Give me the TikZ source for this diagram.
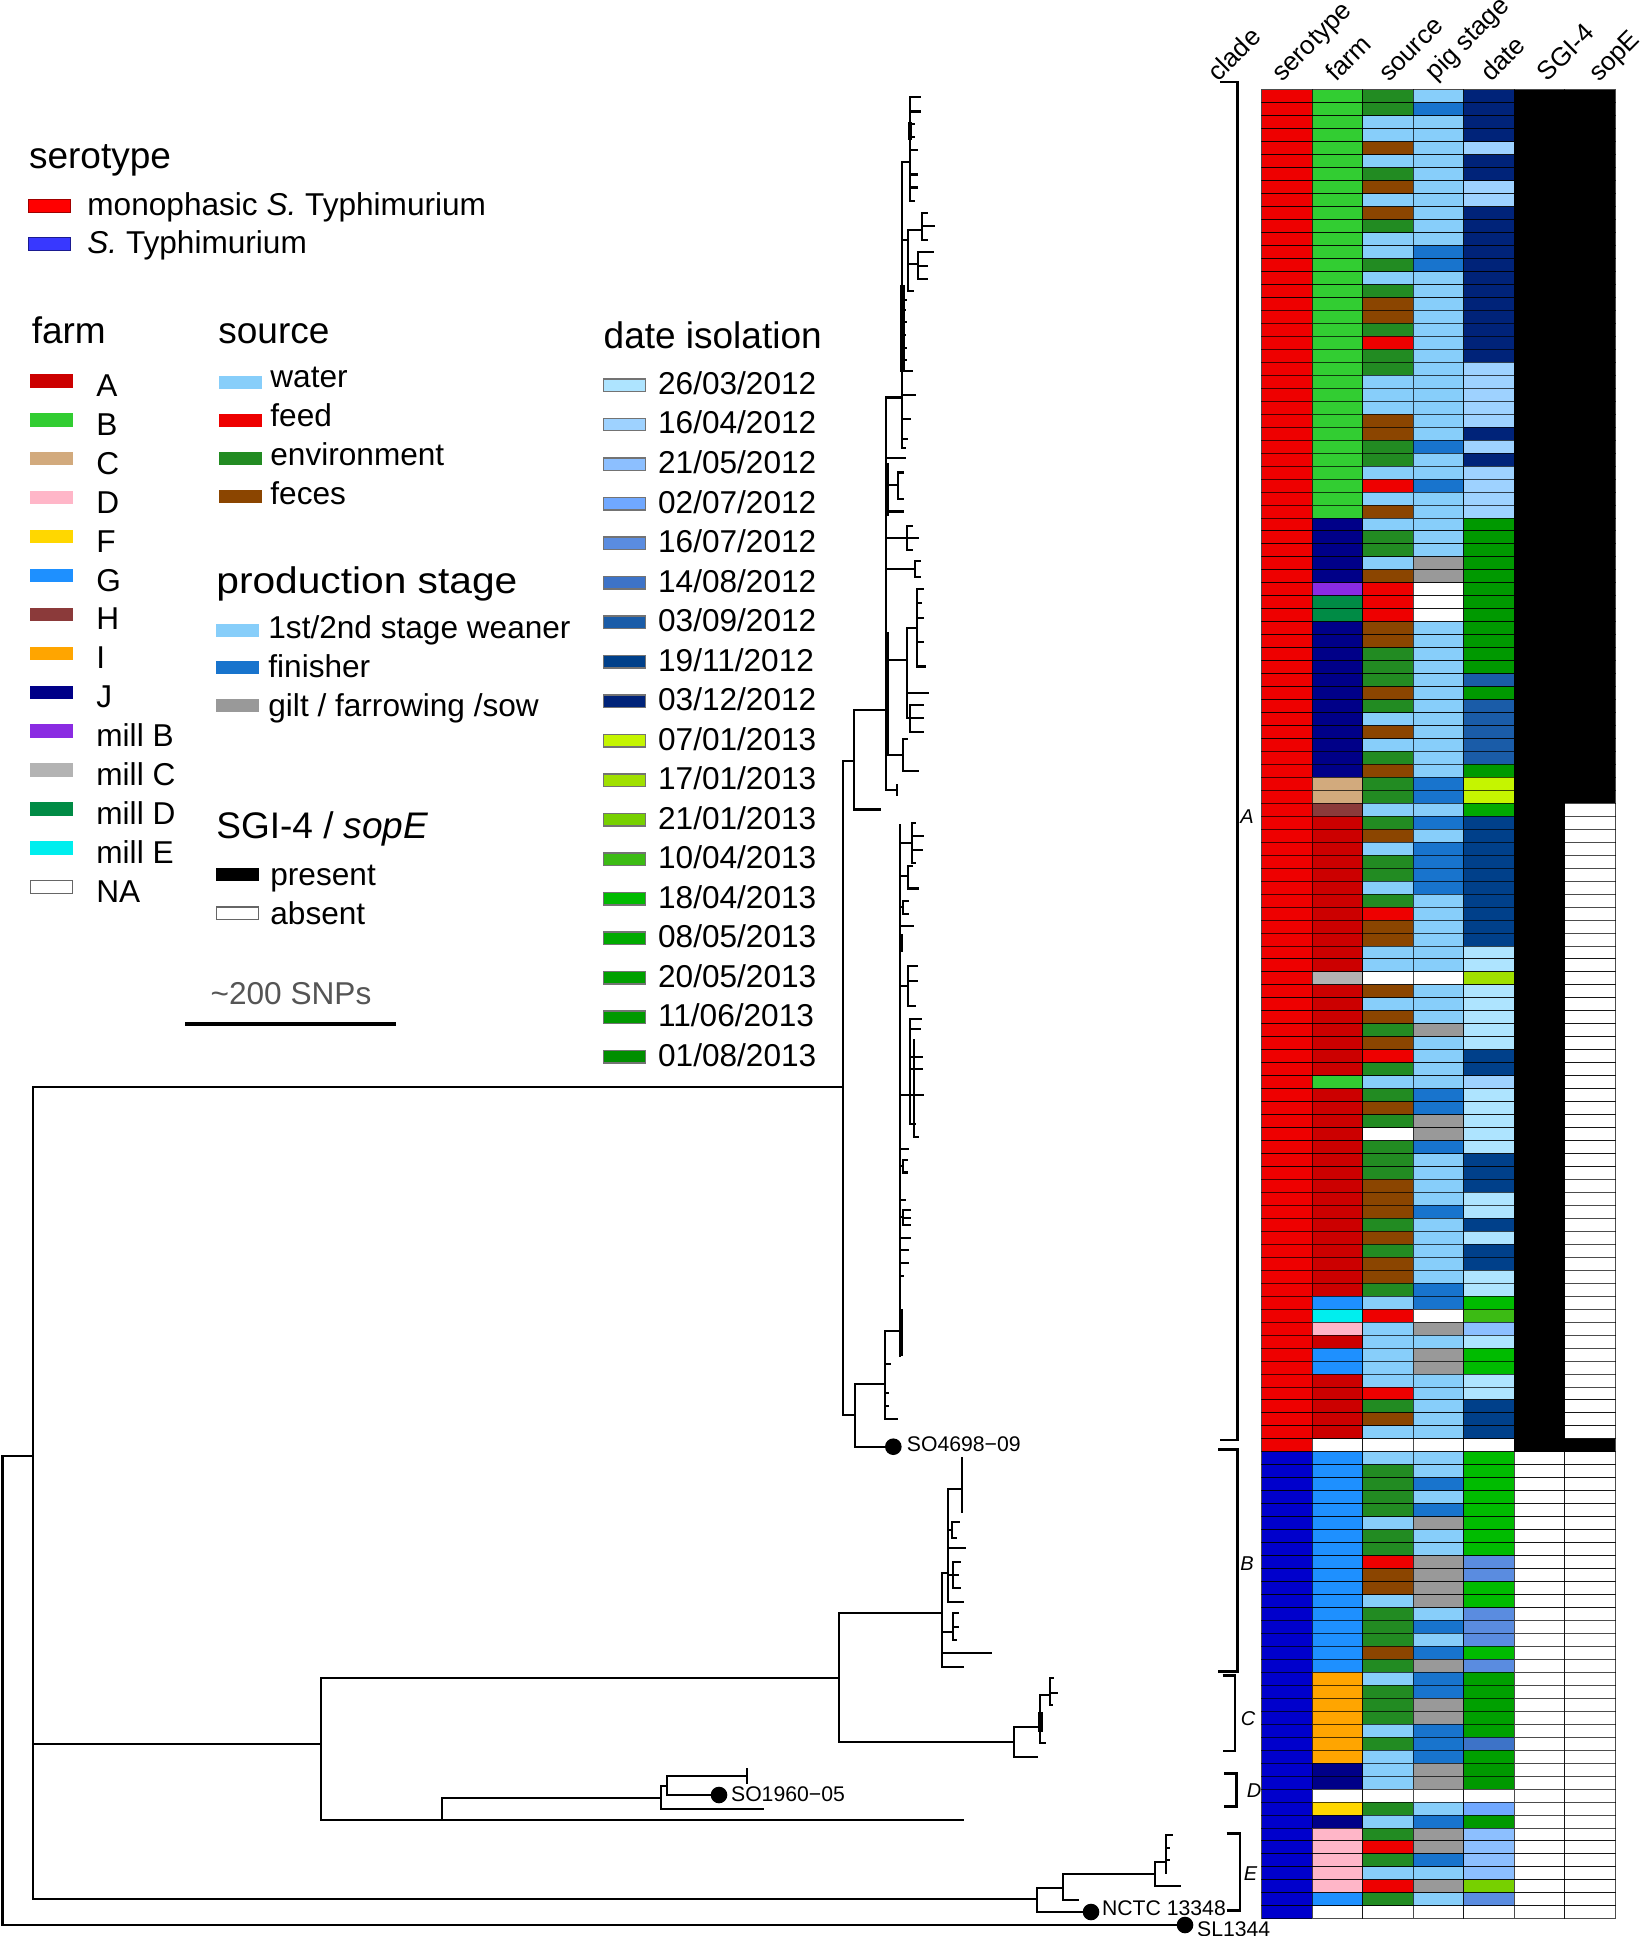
\documentclass[tikz,border=0pt]{standalone}
\usepackage{fontspec}
\setmainfont{Liberation Sans}
% serotype
\definecolor{serM}{HTML}{EE0000}
\definecolor{serT}{HTML}{0000CC}
\definecolor{legR}{HTML}{FF0000}
\definecolor{legRb}{HTML}{A00000}
\definecolor{legB}{HTML}{3838FF}
\definecolor{legBb}{HTML}{1A1A90}
% farm
\definecolor{farmA}{HTML}{CC0000}
\definecolor{farmB}{HTML}{32CD32}
\definecolor{farmC}{HTML}{D2AA7D}
\definecolor{farmD}{HTML}{FFB6C8}
\definecolor{farmF}{HTML}{FFD700}
\definecolor{farmG}{HTML}{1E90FF}
\definecolor{farmH}{HTML}{8B3A3A}
\definecolor{farmI}{HTML}{FFA500}
\definecolor{farmJ}{HTML}{000088}
\definecolor{farmmB}{HTML}{8A2BE2}
\definecolor{farmmC}{HTML}{B3B3B3}
\definecolor{farmmD}{HTML}{008B45}
\definecolor{farmmE}{HTML}{00EEEE}
\definecolor{farmN}{HTML}{FFFFFF}
% source
\definecolor{srcW}{HTML}{87CEFA}
\definecolor{srcF}{HTML}{EE0000}
\definecolor{srcE}{HTML}{228B22}
\definecolor{srcX}{HTML}{8B4500}
\definecolor{srcN}{HTML}{FFFFFF}
% stage
\definecolor{stgW}{HTML}{87CEFA}
\definecolor{stgF}{HTML}{1874CD}
\definecolor{stgG}{HTML}{999999}
\definecolor{stgN}{HTML}{FFFFFF}
% dates
\definecolor{dt1}{HTML}{AEE4FF}
\definecolor{dt2}{HTML}{9ED2FF}
\definecolor{dt3}{HTML}{8CBFFF}
\definecolor{dt4}{HTML}{70A8FF}
\definecolor{dt5}{HTML}{5A8CE0}
\definecolor{dt6}{HTML}{3D73C8}
\definecolor{dt7}{HTML}{1A5CA8}
\definecolor{dt8}{HTML}{00408A}
\definecolor{dt9}{HTML}{002379}
\definecolor{dt10}{HTML}{C5F500}
\definecolor{dt11}{HTML}{A0E000}
\definecolor{dt12}{HTML}{77D000}
\definecolor{dt13}{HTML}{3CBB14}
\definecolor{dt14}{HTML}{00BB00}
\definecolor{dt15}{HTML}{00AA00}
\definecolor{dt16}{HTML}{00A000}
\definecolor{dt17}{HTML}{009900}
\definecolor{dt18}{HTML}{008F00}
\definecolor{dtN}{HTML}{FFFFFF}
\definecolor{snpgray}{HTML}{555555}
\tikzset{
 br/.style={line width=1.1pt, line cap=rect},
 bthick/.style={line width=2.2pt},
 brk/.style={line width=1.4pt},
 cell/.style={draw=black, draw opacity=0.7, line width=0.5pt},
 ttl/.style={font=\fontsize{18.5}{22}\selectfont, inner sep=0pt, anchor=base west},
 itm/.style={font=\fontsize{15.8}{19}\selectfont, inner sep=0pt, anchor=base west},
 hdr/.style={font=\fontsize{13}{15}\selectfont, inner sep=0pt, anchor=base west, rotate=45},
 tl/.style={font=\fontsize{10.6}{13}\selectfont, inner sep=0pt, anchor=base west},
 cl/.style={font=\fontsize{10}{12}\selectfont\itshape, inner sep=0pt},
 dot/.style={circle, fill=black, inner sep=0pt, minimum size=8.3pt},
}
\begin{document}
\begin{tikzpicture}[x=0.5pt,y=-0.5pt]
\fill[white] (0,0) rectangle (1643,1936);
\useasboundingbox (0,0) rectangle (1643,1936);

% ---------------- legend: serotype ----------------
\node[ttl] (tser) at (28.7,169) {serotype};
\path[fill=legR, draw=legRb, line width=0.8pt] (28.5,199.5) rectangle (70.5,212.5);
\node[itm] (lmono) at (87,216) {monophasic \textit{S.} Typhimurium};
\path[fill=legB, draw=legBb, line width=0.8pt] (28.5,237.5) rectangle (70.5,250.5);
\node[itm] (lst) at (87,254) {\textit{S.} Typhimurium};

% ---------------- legend: farm ----------------
\node[ttl] (tfarm) at (31.4,343.3) {farm};
\foreach \lab/\col [count=\k from 0] in {A/farmA, B/farmB, C/farmC, D/farmD, F/farmF, G/farmG, H/farmH, I/farmI, J/farmJ, mill B/farmmB, mill C/farmmC, mill D/farmmD, mill E/farmmE, NA/farmN}{
  \pgfmathsetmacro\yy{381+38.9*\k}
  \path[fill=\col] (30,\yy-6.7) rectangle (73,\yy+6.7);
  \node[itm] (farm\k) at (96,\yy+15.5) {\lab};
}
\draw[black!60, line width=0.6pt] (30.5,880.3) rectangle (72.5,893.1);

% ---------------- legend: source ----------------
\node[ttl] (tsrc) at (218,343.3) {source};
\foreach \lab/\col [count=\k from 0] in {water/srcW, feed/srcF, environment/srcE, feces/srcX}{
  \pgfmathsetmacro\ys{375.7+38*\k}
  \pgfmathsetmacro\yb{387.3+39.2*\k}
  \path[fill=\col] (219,\ys) rectangle (262,\ys+13);
  \node[itm] (src\k) at (270,\yb) {\lab};
}

% ---------------- legend: production stage ----------------
\node[ttl] (tprod) at (216,593.5) {\scalebox{1.1}[1]{production stage}};
\path[fill=stgW] (216,624) rectangle (259,637);
\node[itm] (pw) at (268,638) {1st/2nd stage weaner};
\path[fill=stgF] (216,660.5) rectangle (259,673.5);
\node[itm] (pf) at (268,677) {finisher};
\path[fill=stgG] (216,698.5) rectangle (259,711.5);
\node[itm] (pg) at (268,716) {gilt / farrowing /sow};

% ---------------- legend: SGI-4 / sopE ----------------
\node[ttl] (tsgi) at (216,838) {SGI-4 / \textit{sopE}};
\path[fill=black] (216,867.5) rectangle (259,880.5);
\node[itm] (lpres) at (270,885) {present};
\path[fill=white, draw=black!60, line width=0.6pt] (216.5,907) rectangle (258.5,919.5);
\node[itm] (labs) at (270,924) {absent};

% ---------------- scale bar ----------------
\node[itm, anchor=base, text=snpgray] (snp) at (291,1004) {\textasciitilde200 SNPs};
\coordinate (sbl) at (185,1024.3);
\coordinate (sbr) at (396,1024.3);
\draw[line width=2pt] (sbl) -- (sbr);

% ---------------- legend: date ----------------
\node[ttl] (tdate) at (603.3,349) {date isolation};
\foreach \dl [count=\k] in {26/03/2012, 16/04/2012, 21/05/2012, 02/07/2012, 16/07/2012, 14/08/2012, 03/09/2012, 19/11/2012, 03/12/2012, 07/01/2013, 17/01/2013, 21/01/2013, 10/04/2013, 18/04/2013, 08/05/2013, 20/05/2013, 11/06/2013, 01/08/2013}{
  \pgfmathsetmacro\yy{385.2+39.5*(\k-1)}
  \path[fill=dt\k, draw=black!55, line width=0.6pt] (603.5,\yy-6.2) rectangle (645.5,\yy+6.2);
  \node[itm] (dl\k) at (657.7,\yy+9.3) {\dl};
}

% ---------------- column headers ----------------
\node[hdr] (hclade) at (1218,83) {clade};
\node[hdr] (hser) at (1282,83) {serotype};
\node[hdr] (hfarm) at (1336,83) {farm};
\node[hdr] (hsrc) at (1389,83) {source};
\node[hdr] (hpig) at (1435.5,82) {pig stage};
\node[hdr] (hdate) at (1491,83) {date};
\node[hdr] (hsgi) at (1547.5,83) {SGI-4};
\node[hdr] (hsope) at (1599,83) {sopE};

% ---------------- heatmap ----------------
\foreach \vS/\vF/\vO/\vP/\vD [count=\i from 0] in {
M/B/E/W/9, M/B/E/F/9, M/B/W/W/9, M/B/W/W/9, M/B/X/W/2, M/B/W/W/9, M/B/E/W/9, M/B/X/W/2, M/B/W/W/2, M/B/X/W/9,
M/B/E/W/9, M/B/W/W/9, M/B/W/F/9, M/B/E/F/9, M/B/W/W/9, M/B/E/W/9, M/B/X/W/9, M/B/X/W/9, M/B/E/W/9, M/B/F/W/9,
M/B/E/W/9, M/B/E/W/2, M/B/W/W/2, M/B/W/W/2, M/B/W/W/2, M/B/X/W/2, M/B/X/W/9, M/B/E/F/2, M/B/E/W/9, M/B/W/W/2,
M/B/F/F/2, M/B/W/W/2, M/B/X/W/2, M/J/W/W/17, M/J/E/W/17, M/J/E/W/17, M/J/W/G/17, M/J/X/G/17, M/mB/F/N/17, M/mD/F/N/17,
M/mD/F/N/17, M/J/X/W/17, M/J/X/W/17, M/J/E/W/17, M/J/E/W/17, M/J/E/W/7, M/J/X/W/17, M/J/E/W/7, M/J/W/W/7, M/J/X/W/7,
M/J/W/W/7, M/J/E/W/7, M/J/X/W/17, M/C/E/F/10, M/C/E/F/10, M/H/W/W/15, M/A/E/F/8, M/A/X/W/8, M/A/W/F/8, M/A/E/F/8,
M/A/E/F/8, M/A/W/F/8, M/A/E/W/8, M/A/F/W/8, M/A/X/W/8, M/A/X/W/8, M/A/W/W/1, M/A/W/W/1, M/mC/N/N/11, M/A/X/W/1,
M/A/W/W/1, M/A/X/W/1, M/A/E/G/1, M/A/X/W/1, M/A/F/W/8, M/A/E/W/8, M/B/W/W/2, M/A/E/F/1, M/A/X/F/1, M/A/E/G/1,
M/A/N/G/1, M/A/E/F/1, M/A/E/W/8, M/A/E/W/8, M/A/X/W/8, M/A/X/W/1, M/A/X/F/1, M/A/E/W/8, M/A/X/W/1, M/A/E/W/8,
M/A/X/W/8, M/A/X/W/1, M/A/E/F/1, M/G/W/F/14, M/mE/F/N/13, M/D/W/G/3, M/A/W/W/1, M/G/W/G/14, M/G/W/G/14, M/A/W/W/1,
M/A/F/W/1, M/A/E/W/8, M/A/X/W/8, M/A/W/W/8, M/N/N/N/N, T/G/W/W/14, T/G/E/W/14, T/G/E/F/14, T/G/E/W/14, T/G/E/F/14,
T/G/W/G/14, T/G/E/W/14, T/G/E/W/14, T/G/F/G/5, T/G/X/G/5, T/G/X/G/14, T/G/W/G/14, T/G/E/W/5, T/G/E/F/5, T/G/E/W/5,
T/G/X/F/14, T/G/E/G/5, T/I/W/F/16, T/I/E/F/16, T/I/E/G/16, T/I/E/G/16, T/I/W/F/16, T/I/E/F/6, T/I/W/F/16, T/J/W/G/17,
T/J/W/G/17, T/N/N/N/N, T/F/E/W/4, T/J/W/F/17, T/D/E/G/3, T/D/F/G/3, T/D/E/F/3, T/D/W/W/3, T/D/F/G/12, T/G/E/W/5,
T/N/N/N/N}{
  \pgfmathsetmacro\yt{90+12.97*\i}
  \pgfmathsetmacro\yb{\yt+12.97}
  \ifnum\i<105 \def\cg{black}\else\def\cg{white}\fi
  \def\ce{white}
  \ifnum\i<55 \def\ce{black}\fi
  \ifnum\i=104 \def\ce{black}\fi
  \path[cell, fill=ser\vS] (1261.7,\yt) rectangle (1312.2,\yb);
  \path[cell, fill=farm\vF] (1312.2,\yt) rectangle (1362.7,\yb);
  \path[cell, fill=src\vO] (1362.7,\yt) rectangle (1413.3,\yb);
  \path[cell, fill=stg\vP] (1413.3,\yt) rectangle (1463.8,\yb);
  \path[cell, fill=dt\vD] (1463.8,\yt) rectangle (1514.3,\yb);
  \path[cell, fill=\cg] (1514.3,\yt) rectangle (1564.8,\yb);
  \path[cell, fill=\ce] (1564.8,\yt) rectangle (1615.3,\yb);
}

% ---------------- clade brackets ----------------
\draw[brk] (1220,82) -- (1237.7,82) -- (1237.7,1440) -- (1220,1440);
\draw[brk] (1218.3,1449.3) -- (1237.7,1449.3) -- (1237.7,1671.7) -- (1218.3,1671.7);
\draw[brk] (1222.7,1675.7) -- (1235,1675.7) -- (1235,1751) -- (1222.7,1751);
\draw[brk] (1224.3,1773.3) -- (1236.7,1773.3) -- (1236.7,1806.7) -- (1224.3,1806.7);
\draw[brk] (1226.7,1833.3) -- (1240,1833.3) -- (1240,1910.7) -- (1226.7,1910.7);
\node[cl] (cA) at (1247,817) {A};
\node[cl] (cB) at (1247,1563.3) {B};
\node[cl] (cC) at (1248,1719) {C};
\node[cl] (cD) at (1254,1790.5) {D};
\node[cl] (cE) at (1250.5,1874) {E};

% ---------------- tree: reference tips ----------------
\node[dot] (dSO46) at (893.3,1446.7) {};
\node[tl] (lSO46) at (906.5,1451.5) {SO4698−09};
\node[dot] (dSO19) at (719,1795) {};
\node[tl] (lSO19) at (730.7,1801.7) {SO1960−05};
\node[dot] (dNC) at (1091,1912) {};
\node[tl] (lNC) at (1101.7,1915.5) {NCTC 13348};
\node[dot] (dSL) at (1185,1925) {};
\node[tl] (lSL) at (1196.7,1936.5) {SL1344};

% ---------------- tree: backbone ----------------
\draw[br] (2.5,1456) -- (33.3,1456);
\draw[br] (2.5,1456) -- (2.5,1925) -- (dSL);
\draw[br] (33.3,1087) -- (33.3,1899);
\draw[br] (33.3,1087) -- (842.7,1087);
\draw[br] (33.3,1743.6) -- (321,1743.6);
\draw[br] (33.3,1899) -- (1037.3,1899);

% B/C/D
\draw[br] (321,1677.7) -- (321,1820);
\draw[br] (321,1677.7) -- (839,1677.7);
\draw[br] (321,1820) -- (442,1820);
\draw[br] (442,1797.7) -- (442,1820);
\draw[br] (442,1820) -- (963,1820);
\draw[br] (442,1797.7) -- (660.7,1797.7);
\draw[br] (660.7,1785.7) -- (660.7,1809);
\draw[br] (660.7,1809) -- (762.7,1809);
\draw[br] (660.7,1785.7) -- (666.7,1785.7);
\draw[br] (666.7,1775.7) -- (666.7,1795);
\draw[br] (666.7,1775.7) -- (747.3,1775.7);
\draw[br] (747.3,1769) -- (747.3,1783);
\draw[br] (666.7,1795) -- (dSO19);

% B/C node
\draw[br] (839,1613.3) -- (839,1741.7);
\draw[br] (839,1613.3) -- (941.7,1613.3);
\draw[br] (839,1741.7) -- (1014,1741.7);

% clade B subtree
\draw[br] (941.7,1573.3) -- (941.7,1666.7);
\draw[br] (941.7,1666.7) -- (962.7,1666.7);
\draw[br] (941.7,1652.7) -- (990.7,1652.7);
\draw[br] (941.7,1631.7) -- (953.3,1631.7) (953.3,1613.3) -- (953.3,1640);
\draw[br] (953.3,1613.3) -- (958.3,1613.3) (953.3,1626.7) -- (958.3,1626.7) (953.3,1640) -- (956,1640);
\draw[br] (941.7,1573.3) -- (948.3,1573.3);
\draw[br] (948.3,1489.3) -- (948.3,1601.7);
\draw[br] (948.3,1601.7) -- (962.7,1601.7);
\draw[br] (948.3,1489.3) -- (961.7,1489.3);
\draw[br] (961.7,1458.3) -- (961.7,1511.7);
\draw[br] (948.3,1548.3) -- (965,1548.3);
\draw[br] (948.3,1530) -- (951.7,1530) (951.7,1522) -- (951.7,1538) (951.7,1522) -- (959,1522) (951.7,1538) -- (956,1538);
\draw[br] (948.3,1575) -- (953.3,1575) (953.3,1561.7) -- (953.3,1588.3) (953.3,1561.7) -- (960,1561.7) (953.3,1575) -- (958,1575) (953.3,1588.3) -- (960,1588.3);

% clade C subtree
\draw[br] (1014,1726.7) -- (1014,1756.7);
\draw[br] (1014,1756.7) -- (1036.7,1756.7);
\draw[br] (1014,1726.7) -- (1040,1726.7);
\draw[br] (1040,1695) -- (1040,1743.3) (1040,1743.3) -- (1045,1743.3);
\draw[bthick] (1040.5,1712) -- (1040.5,1732);
\draw[br] (1040,1695) -- (1050,1695) (1050,1678.3) -- (1050,1705) (1050,1678.3) -- (1053,1678.3) (1050,1693) -- (1056.7,1693) (1050,1705) -- (1052,1705);

% clade E + NCTC
\draw[br] (1037.3,1887.7) -- (1037.3,1912);
\draw[br] (1037.3,1912) -- (dNC);
\draw[br] (1037.3,1887.7) -- (1063.3,1887.7);
\draw[br] (1063.3,1874) -- (1063.3,1900);
\draw[br] (1063.3,1900) -- (1078,1900);
\draw[br] (1063.3,1874) -- (1155,1874);
\draw[br] (1155,1862) -- (1155,1886);
\draw[br] (1155,1886) -- (1180,1886);
\draw[br] (1155,1862) -- (1165.7,1862);
\draw[br] (1165.7,1835) -- (1165.7,1873);
\draw[br] (1165.7,1835) -- (1172,1835) (1165.7,1848) -- (1169,1848) (1165.7,1860) -- (1169,1860);

% ---------------- clade A ----------------
\draw[br] (842.7,761) -- (842.7,1415.3);
\draw[br] (842.7,761) -- (854,761);
\draw[br] (854,710) -- (854,809.5);
\draw[br] (854,809.5) -- (880,809.5);
\draw[br] (854,710) -- (886,710);
% upper spine S2
\draw[br] (886,397.5) -- (886,790);
\draw[bthick] (887,463) -- (887,516);
\draw[bthick] (887,632) -- (887,754);
\draw[br] (886,790) -- (896.7,790) (896.7,785) -- (896.7,795);
\draw[br] (886,397.5) -- (901.7,397.5);
\draw[br] (886,458) -- (905,458);
\draw[br] (886,485) -- (898.3,485) (898.3,472.6) -- (898.3,499) (898.3,472.6) -- (903,472.6) (898.3,499) -- (903,499);
\draw[br] (886,511.4) -- (903.3,511.4);
\draw[br] (886,538) -- (906.7,538) (906.7,526) -- (906.7,550) (906.7,526) -- (912,526) (906.7,538) -- (918.3,538) (906.7,550) -- (912,550);
\draw[br] (886,569) -- (915,569) (915,561) -- (915,577) (915,561) -- (920,561) (915,577) -- (920,577);
\draw[br] (886,660) -- (906.7,660) (906.7,628) -- (906.7,718);
\draw[br] (906.7,628) -- (916.7,628) (916.7,589) -- (916.7,666.5) (916.7,589) -- (922.7,589) (916.7,603) -- (921,603) (916.7,618) -- (922.7,618) (916.7,642) -- (923,642) (916.7,666.5) -- (925,666.5);
\draw[br] (906.7,693) -- (928.3,693);
\draw[br] (906.7,718) -- (910,718) (910,705) -- (910,732) (910,705) -- (922.7,705) (910,718) -- (922.7,718) (910,732) -- (922.7,732);
\draw[br] (886,755) -- (903.3,755) (903.3,739) -- (903.3,770.7) (903.3,770.7) -- (918.3,770.7) (903.3,739) -- (907,739);
% upper spine S1
\draw[br] (901.7,162) -- (901.7,448);
\draw[bthick] (902.5,285) -- (902.5,372);
\draw[br] (901.7,162) -- (910,162);
\draw[br] (910,97) -- (910,201);
\draw[bthick] (910,122) -- (910,140);
\draw[br] (910,97) -- (920,97) (910,111.5) -- (920,111.5) (910,124) -- (914,124) (910,137) -- (914,137) (910,150) -- (917,150) (910,174.5) -- (917,174.5) (910,187.6) -- (917,187.6) (910,201) -- (914,201);
\draw[br] (901.7,240) -- (908.3,240) (908.3,230) -- (908.3,291) (908.3,230) -- (921.7,230) (921.7,213) -- (921.7,240) (921.7,213) -- (927,213) (921.7,226) -- (934,226) (921.7,240) -- (927,240);
\draw[br] (908.3,264) -- (918.3,264) (918.3,252) -- (918.3,279) (918.3,252) -- (933,252) (918.3,266) -- (926.7,266) (918.3,279) -- (926.7,279);
\draw[br] (908.3,291) -- (913,291);
\draw[br] (901.7,300) -- (906,300) (901.7,310) -- (905,310) (901.7,322) -- (906,322) (901.7,335) -- (905,335) (901.7,348) -- (906,348) (901.7,360) -- (906,360) (901.7,371) -- (911.7,371) (901.7,395) -- (915,395) (901.7,419) -- (910,419) (901.7,439) -- (907,439) (901.7,448) -- (905,448);
% lower part of clade A
\draw[br] (842.7,1415.3) -- (855,1415.3);
\draw[br] (855,1384) -- (855,1446.7);
\draw[br] (855,1446.7) -- (dSO46);
\draw[br] (855,1384) -- (885,1384);
\draw[br] (885,1331) -- (885,1418.7);
\draw[br] (885,1364) -- (890,1364) (885,1393) -- (888,1393) (885,1406) -- (888,1406) (885,1418.7) -- (896.7,1418.7);
\draw[br] (885,1331) -- (900,1331);
\draw[br] (900,825) -- (900,1356);
\draw[bthick] (901,1309) -- (901,1356);
\draw[bthick] (901,934) -- (901,952);
\draw[br] (900,843) -- (911.7,843) (911.7,823) -- (911.7,863) (911.7,823) -- (915,823) (911.7,836) -- (922.7,836) (911.7,850) -- (921.7,850) (911.7,863) -- (915,863);
\draw[br] (900,876) -- (908.3,876) (908.3,866) -- (908.3,888.4) (908.3,888.4) -- (918.3,888.4) (908.3,866) -- (912,866);
\draw[br] (900,907) -- (903,907) (903,901) -- (903,913.6) (903,901) -- (908,901) (903,913.6) -- (908,913.6);
\draw[br] (900,926) -- (913,926);
\draw[br] (900,986) -- (908.3,986) (908.3,966) -- (908.3,1006) (908.3,966) -- (916.7,966) (908.3,981) -- (916.7,981) (908.3,1006) -- (915,1006);
\draw[br] (900,1094.6) -- (910,1094.6) (910,1018.9) -- (910,1124) (910,1018.9) -- (920.7,1018.9) (910,1029) -- (920,1029) (910,1056.7) -- (921.7,1056.7) (910,1069) -- (921.7,1069) (910,1094.6) -- (923.3,1094.6) (910,1124) -- (915,1124) (914,1040) -- (914,1136.7) (914,1136.7) -- (918,1136.7);
\draw[br] (900,1149.3) -- (908.3,1149.3);
\draw[br] (900,1166) -- (903,1166) (903,1160) -- (903,1172.5) (903,1160) -- (907,1160) (903,1172.5) -- (907,1172.5);
\draw[br] (900,1199.8) -- (905,1199.8);
\draw[br] (900,1217) -- (903,1217) (903,1210) -- (903,1225) (903,1210) -- (910,1210) (903,1218) -- (910,1218) (903,1225) -- (910,1225);
\draw[br] (900,1237.7) -- (910,1237.7) (900,1250) -- (908,1250) (900,1263) -- (908,1263) (900,1275.6) -- (903,1275.6);
\end{tikzpicture}
\end{document}
